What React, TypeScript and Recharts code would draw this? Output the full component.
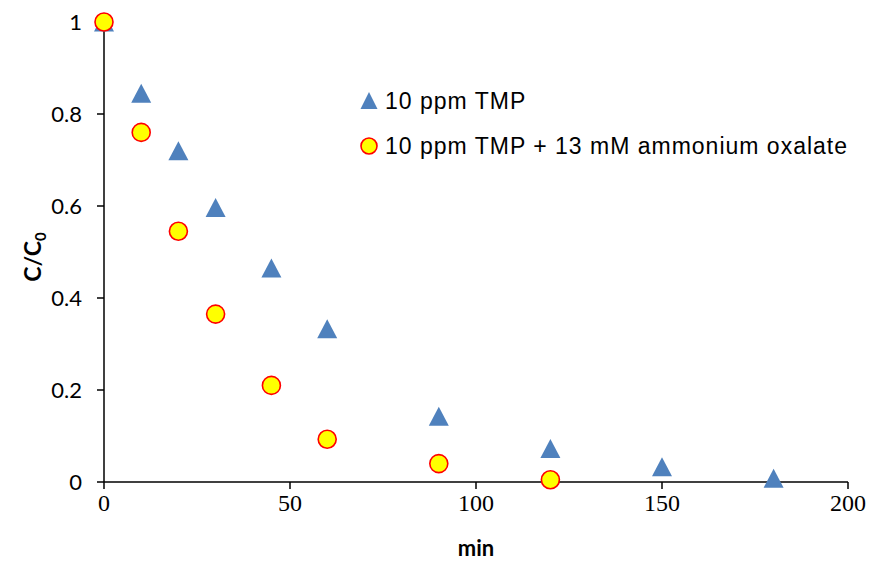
import { ScatterChart, Scatter, XAxis, YAxis } from 'recharts';

// time (min) and C/C0 readings
const tmpTime = [0, 10, 20, 30, 45, 60, 90, 120, 150, 180];
const tmpRatio = [1.0, 0.845, 0.72, 0.597, 0.465, 0.333, 0.143, 0.073, 0.033, 0.008];

const oxTime = [0, 10, 20, 30, 45, 60, 90, 120];
const oxRatio = [1.0, 0.76, 0.545, 0.365, 0.21, 0.093, 0.04, 0.005];

const xTicks = [0, 50, 100, 150, 200];
const yTicks = [0, 0.2, 0.4, 0.6, 0.8, 1];

const seriesNames = ['10 ppm TMP', '10 ppm TMP + 13 mM ammonium oxalate'];

const BLUE = '#4F81BD';

const tmpData = tmpTime.map((t, i) => ({ x: t, y: tmpRatio[i] }));
const oxData = oxTime.map((t, i) => ({ x: t, y: oxRatio[i] }));

const Triangle = (props: any) => {
  const { cx, cy } = props;
  if (cx == null || cy == null) return null;
  return (
    <polygon
      points={`${cx},${cy - 9.5} ${cx - 10},${cy + 9.5} ${cx + 10},${cy + 9.5}`}
      fill={BLUE}
    />
  );
};

const Dot = (props: any) => {
  const { cx, cy } = props;
  if (cx == null || cy == null) return null;
  return <circle cx={cx} cy={cy} r={9} fill="#FFFF00" stroke="#FF0000" strokeWidth={1.6} />;
};

const renderXTick = (props: any) => {
  const { x, y, payload } = props;
  return (
    <text
      key={`xt-${payload.value}`}
      x={x}
      y={y + 22}
      textAnchor="middle"
      fontFamily="Liberation Serif"
      fontSize={24}
      fill="#000"
    >
      {payload.value}
    </text>
  );
};

const renderYTick = (props: any) => {
  const { x, y, payload } = props;
  return (
    <text
      key={`yt-${payload.value}`}
      x={x}
      y={y + 8}
      textAnchor="end"
      fontFamily="Lato"
      fontSize={22}
      fill="#000"
    >
      {String(payload.value)}
    </text>
  );
};

const YLabel = () => (
  <text
    x={41}
    y={257}
    transform="rotate(-90 41 257)"
    textAnchor="middle"
    fontFamily="Lato"
    fontWeight="bold"
    fontSize={23}
    fill="#000"
  >
    C/C
    <tspan fontSize={15} dy={5}>
      0
    </tspan>
  </text>
);

const LegendBox = () => (
  <svg width={500} height={80} style={{ position: 'absolute', left: 358, top: 86 }}>
    <polygon points="11,6 2.5,23 19.5,23" fill={BLUE} />
    <text x={27} y={23} fontFamily="Liberation Sans" fontSize={23} letterSpacing={1} fill="#000">
      {seriesNames[0]}
    </text>
    <circle cx={11} cy={60} r={8} fill="#FFFF00" stroke="#FF0000" strokeWidth={1.6} />
    <text x={27} y={68} fontFamily="Liberation Sans" fontSize={23} letterSpacing={1} fill="#000">
      {seriesNames[1]}
    </text>
  </svg>
);

export default function App() {
  return (
    <div style={{ position: 'relative', width: 870, height: 561 }}>
      <style>{'body{margin:0}'}</style>
      <ScatterChart width={870} height={561} margin={{ top: 22, right: 22, bottom: 0, left: 0 }}>
        <XAxis
          type="number"
          dataKey="x"
          domain={[0, 200]}
          ticks={xTicks}
          height={79}
          axisLine={{ stroke: '#000', strokeWidth: 1.5 }}
          tickLine={{ stroke: '#000', strokeWidth: 1.5 }}
          tickSize={7}
          tickMargin={0}
          tick={renderXTick}
          label={{
            value: 'min',
            position: 'insideBottom',
            offset: 5,
            fill: '#000',
            fontSize: 22,
            fontWeight: 'bold',
            fontFamily: 'Lato',
          }}
        />
        <YAxis
          type="number"
          dataKey="y"
          domain={[0, 1]}
          ticks={yTicks}
          width={104}
          axisLine={{ stroke: '#000', strokeWidth: 1.5 }}
          tickLine={{ stroke: '#000', strokeWidth: 1.5 }}
          tickSize={7}
          tickMargin={15}
          tick={renderYTick}
          label={<YLabel />}
        />
        <Scatter name={seriesNames[0]} data={tmpData} shape={<Triangle />} isAnimationActive={false} />
        <Scatter name={seriesNames[1]} data={oxData} shape={<Dot />} isAnimationActive={false} />
      </ScatterChart>
      <LegendBox />
    </div>
  );
}
